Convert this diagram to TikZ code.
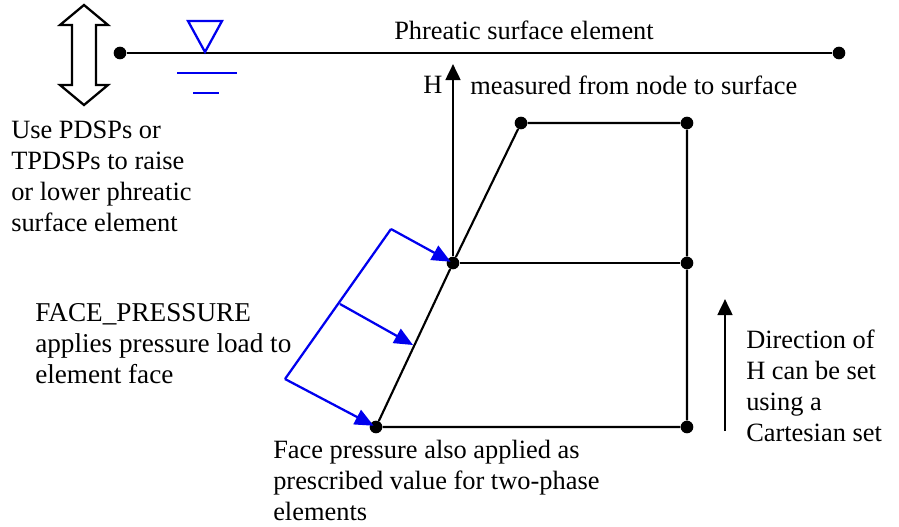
\documentclass[tikz,border=0pt]{standalone}
\usepackage{fontspec}
\setmainfont{Liberation Serif}
\usepackage{xcolor}
\usetikzlibrary{arrows.meta,positioning}
\definecolor{loadblue}{RGB}{0,0,238}

\begin{document}
\begin{tikzpicture}[x=0.75pt,y=-0.75pt,
  every node/.style={font=\fontsize{19.8pt}{23.2pt}\selectfont},
  dot/.style={circle,fill=black,inner sep=0pt,minimum size=9.5pt},
  note/.style={align=left,inner sep=0pt,anchor=north west},
  mesh/.style={draw=black,line width=1.6pt},
  load/.style={draw=loadblue,line width=1.7pt},
  pointer/.style={draw=black,line width=2pt,-{Triangle[length=12pt,width=11pt]}},
  loadtip/.style={load,-{Triangle[length=14pt,width=12pt]}}]
  \useasboundingbox (0,0) rectangle (899,526);
  % mesh and phreatic surface nodes
  \node[dot] (sl) at (120,53) {};
  \node[dot] (sr) at (839,53) {};
  \node[dot] (ta) at (521,123) {};
  \node[dot] (tb) at (687,123) {};
  \node[dot] (ma) at (453,263) {};
  \node[dot] (mb) at (687,263) {};
  \node[dot] (ba) at (376,427) {};
  \node[dot] (bb) at (687,427) {};
  \draw[mesh] (sl)--(sr);
  \draw[mesh] (ta)--(tb)--(mb)--(bb)--(ba)--(ma)--(ta);
  \draw[mesh] (ma)--(mb);
  % H and direction arrows
  \coordinate (htop) at (453,64);
  \coordinate (dlow) at (725,431);
  \coordinate (dtop) at (725,299);
  \draw[pointer] (ma)--(htop);
  \draw[pointer] (dlow)--(dtop);
  % raise and lower arrow
  \draw[line width=1.7pt,line join=miter] (84,5)--(108,25)--(96,25)--(96,85)--(108,85)--(84,105)
    --(60,85)--(72,85)--(72,25)--(60,25)--cycle;
  % water table symbol
  \draw[load] (188,21)--(222,21)--(205,52)--cycle;
  \draw[load] (177,73)--(237,73);
  \draw[load] (193,93)--(219,93);
  % face pressure load
  \coordinate (pa) at (391,229);
  \coordinate (pb) at (340,304);
  \coordinate (pc) at (285,379);
  \coordinate (qb) at (413,345);
  \draw[load] (pa)--(pc);
  \draw[loadtip,shorten >=2pt] (pa)--(ma.center);
  \draw[loadtip] (pb)--(qb);
  \draw[loadtip,shorten >=2pt] (pc)--(ba.center);
  % labels
  \node[note] (tsurf) at (394,21) {Phreatic surface element};
  \node[note] (th) at (423,76) {H};
  \node[note] (tmeas) at (470,76) {measured from node to surface};
  \node[note] (tuse) at (11,121) {Use PDSPs or\\TPDSPs to raise\\or lower phreatic\\surface element};
  \node[note,font=\fontsize{20.4pt}{23.2pt}\selectfont] (tface) at (35,303) {FACE\_PRESSURE\\applies pressure load to\\element face};
  \node[note] (tdir) at (746,330) {Direction of\\H can be set\\using a\\Cartesian set};
  \node[note] (talso) at (273,440) {Face pressure also applied as\\prescribed value for two-phase\\elements};
\end{tikzpicture}
\end{document}
